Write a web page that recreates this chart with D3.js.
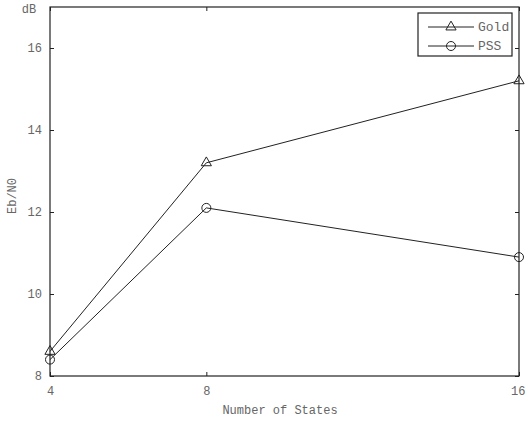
<!DOCTYPE html>
<html><head><meta charset="utf-8">
<script src="https://cdn.jsdelivr.net/npm/d3@7"></script>
<style>body{margin:0;background:#fff}svg{display:block}</style>
</head><body>
<svg id="c" width="525" height="424"></svg>
<script>
const states = [4, 8, 16];
const gold = [8.6, 13.2, 15.2];
const pss = [8.4, 12.1, 10.9];
const yTicks = [8, 10, 12, 14, 16];
const xTicks = [4, 8, 16];
const seriesNames = ["Gold", "PSS"];

const svg = d3.select("#c");
const L = 50, R = 519, T = 7, B = 376;
const x = d3.scaleLinear().domain([4, 16]).range([L, R]);
const y = d3.scaleLinear().domain([8, 17]).range([B, T]);
const font = "'Liberation Mono', 'DejaVu Sans Mono', monospace";
const txt = "#666";

const axL = d3.axisLeft(y).tickValues(yTicks).tickSizeInner(-4).tickSizeOuter(0).tickPadding(8);
const axR = d3.axisRight(y).tickValues(yTicks).tickSizeInner(-4).tickSizeOuter(0).tickFormat("");
const axB = d3.axisBottom(x).tickValues(xTicks).tickSizeInner(-4).tickSizeOuter(0).tickPadding(10);
const axT = d3.axisTop(x).tickValues(xTicks).tickSizeInner(-4).tickSizeOuter(0).tickFormat("");

function style(g){
  g.selectAll("path").remove();
  g.selectAll("line").attr("stroke", "#222");
  g.selectAll("text").attr("font-family", font).attr("font-size", 12).attr("fill", txt);
}
svg.append("g").attr("transform", `translate(${L},0)`).call(axL).call(style);
svg.append("g").attr("transform", `translate(${R},0)`).call(axR).call(style);
const gB = svg.append("g").attr("transform", `translate(0,${B})`).call(axB).call(style);
gB.selectAll(".tick").filter(d => d === 16).select("text").attr("text-anchor", "end").attr("x", 6);
svg.append("g").attr("transform", `translate(0,${T})`).call(axT).call(style);

svg.append("rect").attr("x", L).attr("y", T).attr("width", R - L).attr("height", B - T)
  .attr("fill", "none").attr("stroke", "#222").attr("stroke-width", 1.2);

svg.append("text").attr("x", 29).attr("y", 13).attr("text-anchor", "middle")
  .attr("font-family", font).attr("font-size", 12).attr("fill", txt).text("dB");
svg.append("text").attr("transform", "translate(16,196) rotate(-90)").attr("text-anchor", "middle")
  .attr("font-family", font).attr("font-size", 12).attr("fill", txt).text("Eb/N0");
svg.append("text").attr("x", 280).attr("y", 414).attr("text-anchor", "middle")
  .attr("font-family", font).attr("font-size", 12).attr("fill", txt).text("Number of States");

const line = d3.line().x((d, i) => x(states[i])).y(d => y(d));
const tri = d3.symbol().type(d3.symbolTriangle).size(45);

function drawSeries(vals, kind){
  svg.append("path").datum(vals).attr("d", line).attr("fill", "none").attr("stroke", "#222").attr("stroke-width", 1);
  vals.forEach((v, i) => marker(x(states[i]), y(v), kind));
}
function marker(cx, cy, kind){
  if (kind === "tri") {
    svg.append("path").attr("d", tri).attr("transform", `translate(${cx},${cy})`)
      .attr("fill", "none").attr("stroke", "#222").attr("stroke-width", 1);
  } else {
    svg.append("circle").attr("cx", cx).attr("cy", cy).attr("r", 4.5)
      .attr("fill", "none").attr("stroke", "#222").attr("stroke-width", 1);
  }
}
drawSeries(gold, "tri");
drawSeries(pss, "circ");

const lg = svg.append("g");
lg.append("rect").attr("x", 418).attr("y", 13).attr("width", 94).attr("height", 43)
  .attr("fill", "#fff").attr("stroke", "#222").attr("stroke-width", 1.2);
seriesNames.forEach((n, i) => {
  const yy = 27 + i * 19;
  lg.append("line").attr("x1", 428).attr("x2", 474).attr("y1", yy).attr("y2", yy).attr("stroke", "#222");
  marker(451, yy, i === 0 ? "tri" : "circ");
  lg.append("text").attr("x", 478).attr("y", yy + 4).attr("font-family", font).attr("font-size", 13)
    .attr("fill", txt).text(n);
});
</script>
</body></html>
